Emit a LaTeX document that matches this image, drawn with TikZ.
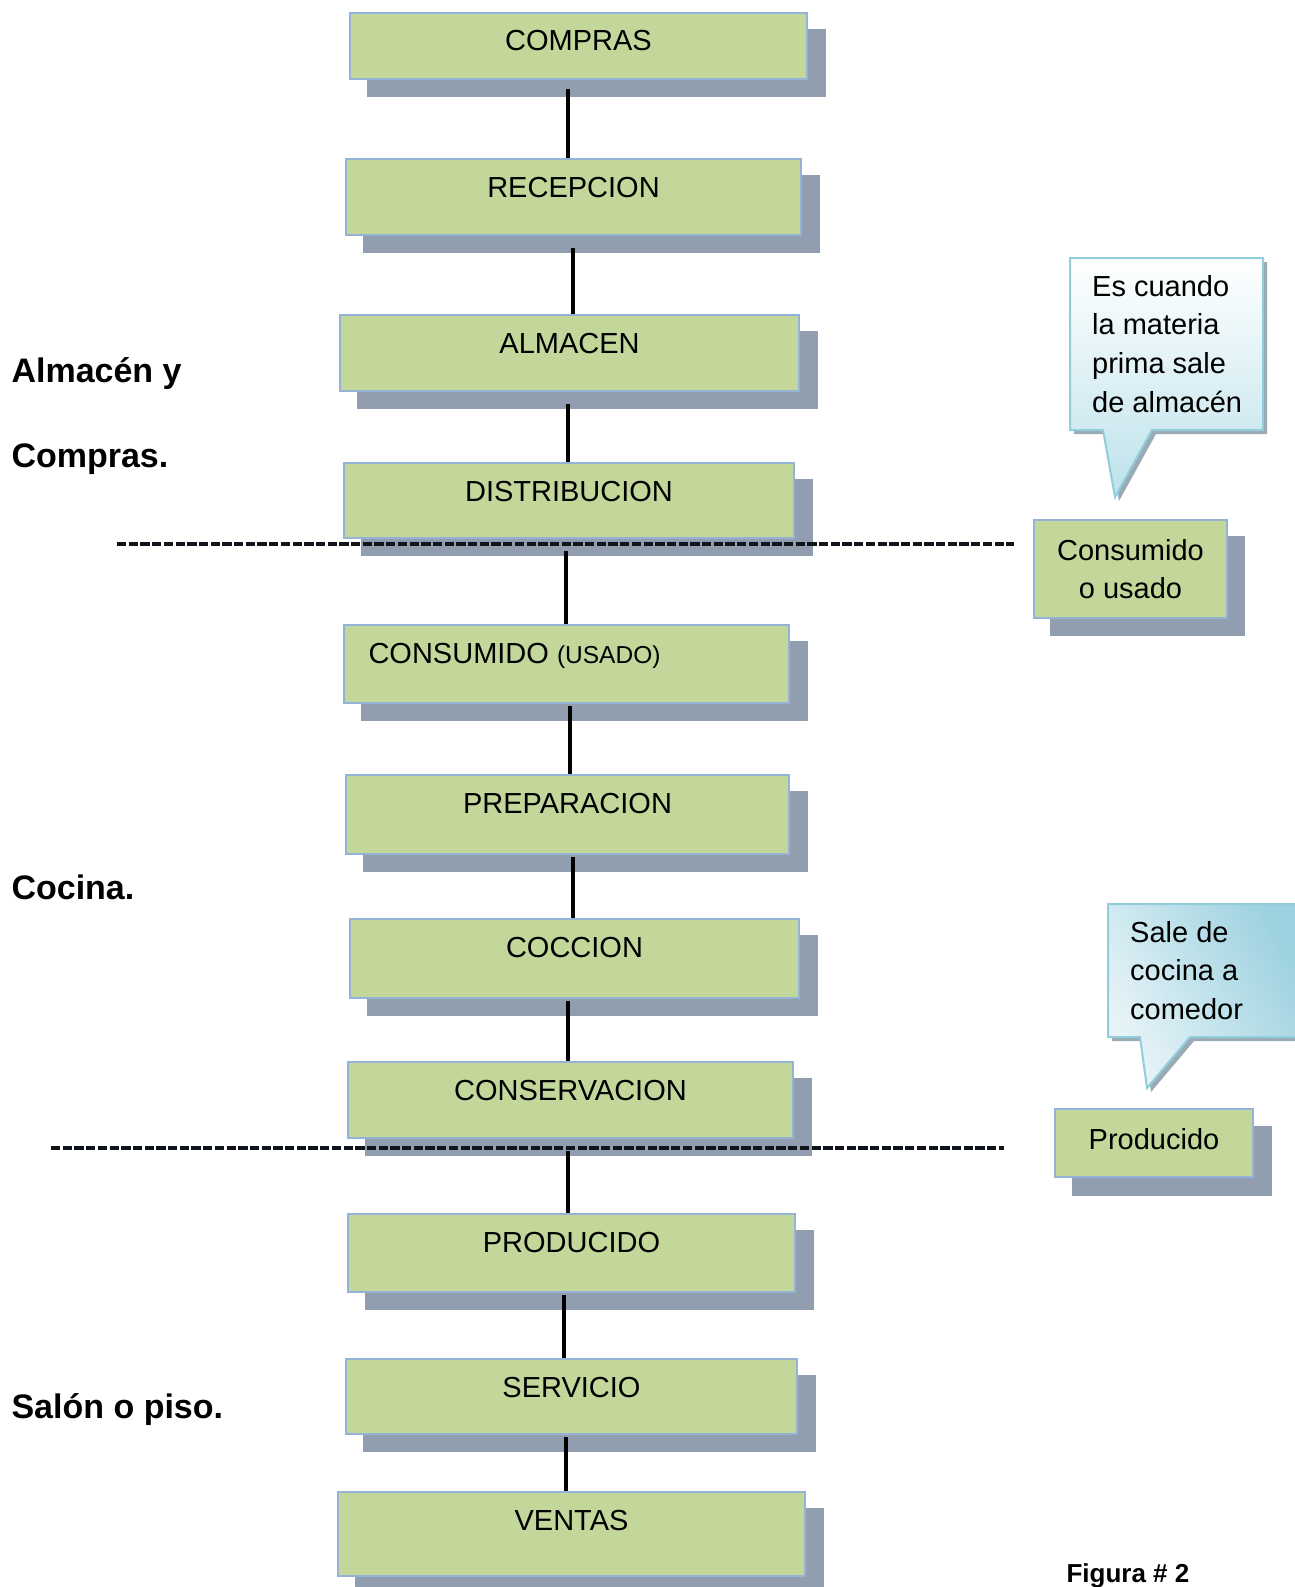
\documentclass[tikz,border=0pt]{standalone}
\usepackage{fontspec}
\setmainfont{Liberation Sans}
\pgfdeclarelayer{shadows}
\pgfdeclarelayer{lines}
\pgfsetlayers{shadows,lines,main}
\definecolor{boxfill}{HTML}{C4D79B}
\definecolor{boxedge}{HTML}{95B3D7}
\definecolor{boxshadow}{HTML}{919EAF}
\definecolor{dashink}{HTML}{10151C}
\definecolor{calloutedge}{HTML}{92CDDC}
\definecolor{calloutlow}{HTML}{BDE2EB}
\definecolor{calloutdark}{HTML}{9CD1DF}
\definecolor{calloutlight}{HTML}{E8F4F8}
\definecolor{calloutshadow}{HTML}{9AABB6}
\tikzset{
  stepbox/.style={draw=boxedge, line width=2pt, fill=boxfill, inner sep=0pt,
    anchor=north west},
  boxtext/.style={font=\fontsize{29}{35}\selectfont},
  link/.style={line width=4pt, black},
  divider/.style={line width=4.5pt, dashink, dash pattern=on 9.3pt off 2.4pt},
  section/.style={font=\fontsize{34}{40}\selectfont\bfseries, anchor=base west},
}
% a process step: name, top-left corner, width, height, label
\newcommand{\stepnode}[6]{%
  \node[stepbox, minimum width=#4pt, minimum height=#5pt] (#1) at (#2,#3) {};
  \node[boxtext, anchor=base] (#1-t) at ([yshift=-39pt]#1.north) {#6};
  \begin{pgfonlayer}{shadows}
    \fill[boxshadow] ([shift={(18,17)}]#1.south west) rectangle ([shift={(18,17)}]#1.north east);
  \end{pgfonlayer}}
\begin{document}
\begin{tikzpicture}[x=1pt, y=-1pt]
\useasboundingbox (0,0) rectangle (1294,1587);

% process chain
\stepnode{compras}{349}{12}{457}{66}{COMPRAS}
\stepnode{recepcion}{345}{158}{455}{76}{RECEPCION}
\stepnode{almacen}{339}{314}{459}{76}{ALMACEN}
\stepnode{distribucion}{343}{462}{450}{75}{DISTRIBUCION}
\stepnode{consumido}{343}{624}{445}{78}{}
\node[boxtext, anchor=base west] (consumido-t) at ([shift={(22pt,-39pt)}]consumido.north west)
  {CONSUMIDO {\fontsize{24.5}{30}\selectfont(USADO)}};
\stepnode{preparacion}{345}{774}{443}{79}{PREPARACION}
\stepnode{coccion}{349}{918}{449}{79}{COCCION}
\stepnode{conservacion}{347}{1061}{445}{76}{CONSERVACION}
\stepnode{producido}{347}{1213}{447}{78}{PRODUCIDO}
\stepnode{servicio}{345}{1358}{451}{75}{SERVICIO}
\stepnode{ventas}{337}{1491}{467}{84}{VENTAS}

% connectors between steps, starting just under each box
\begin{pgfonlayer}{lines}
  \draw[link] ([yshift=-9pt]compras.south -| 568,0) -- (recepcion.north -| 568,0);
  \draw[link] ([yshift=-12pt]recepcion.south -| 573,0) -- (almacen.north -| 573,0);
  \draw[link] ([yshift=-12pt]almacen.south -| 568,0) -- (distribucion.north -| 568,0);
  \draw[link] ([yshift=-12pt]distribucion.south -| 566,0) -- (consumido.north -| 566,0);
  \draw[link] ([yshift=-2pt]consumido.south -| 570,0) -- (preparacion.north -| 570,0);
  \draw[link] ([yshift=-2pt]preparacion.south -| 573,0) -- (coccion.north -| 573,0);
  \draw[link] ([yshift=-2pt]coccion.south -| 568,0) -- (conservacion.north -| 568,0);
  \draw[link] ([yshift=-12pt]conservacion.south -| 568,0) -- (producido.north -| 568,0);
  \draw[link] ([yshift=-2pt]producido.south -| 564,0) -- (servicio.north -| 564,0);
  \draw[link] ([yshift=-2pt]servicio.south -| 566,0) -- (ventas.north -| 566,0);

% area dividers
  \coordinate (divAa) at (117,544);
  \coordinate (divAb) at (1014,544);
  \coordinate (divBa) at (51,1148);
  \coordinate (divBb) at (1004,1148);
  \draw[divider] (divAa) -- (divAb);
  \draw[divider] (divBa) -- (divBb);
\end{pgfonlayer}

% area names
\node[section] (almacenY) at (8,382) {Almacén y};
\node[section] (comprasL) at (8,467) {Compras.};
\node[section] (cocinaL) at (8,899) {Cocina.};
\node[section] (salonL) at (8,1418) {Salón o piso.};
\node[font=\fontsize{26}{30}\selectfont\bfseries, anchor=base west] (figura) at (1063,1582) {Figura \# 2};

% state boxes on the right
\node[stepbox, minimum width=193pt, minimum height=98pt, align=center,
      font=\fontsize{29}{38.7}\selectfont] (usado) at (1033,519) {Consumido\\o usado};
\begin{pgfonlayer}{shadows}
  \fill[boxshadow] ([shift={(17,17)}]usado.south west) rectangle ([shift={(17,17)}]usado.north east);
\end{pgfonlayer}
\node[stepbox, minimum width=198pt, minimum height=68pt,
      font=\fontsize{29}{35}\selectfont] (prod) at (1054,1108) {\raisebox{8pt}{Producido}};
\begin{pgfonlayer}{shadows}
  \fill[boxshadow] ([shift={(18,18)}]prod.south west) rectangle ([shift={(18,18)}]prod.north east);
\end{pgfonlayer}

% callouts
\fill[calloutshadow] (1074,262) -- (1267,262) -- (1267,434) -- (1156,434) -- (1119,501) -- (1107,434) -- (1074,434) -- cycle;
\shade[top color=white, bottom color=calloutlow, draw=calloutedge, line width=2pt]
  (1070,258) -- (1263,258) -- (1263,430) -- (1152,430) -- (1115,497) -- (1103,430) -- (1070,430) -- cycle;
\node[anchor=north west, align=left, inner sep=0pt, font=\fontsize{29}{38.7}\selectfont] (nota1) at (1092,275)
  {Es cuando\\la materia\\prima sale\\de almacén};

\fill[calloutshadow] (1112,908) -- (1310,908) -- (1310,1041) -- (1194,1041) -- (1151,1092) -- (1144,1041) -- (1112,1041) -- cycle;
\shade[shading=axis, left color=calloutlight, right color=calloutdark, shading angle=120,
       draw=calloutedge, line width=2pt]
  (1108,904) -- (1306,904) -- (1306,1037) -- (1190,1037) -- (1147,1088) -- (1140,1037) -- (1108,1037) -- cycle;
\node[anchor=north west, align=left, inner sep=0pt, font=\fontsize{29}{38.7}\selectfont] (nota2) at (1130,921)
  {Sale de\\cocina a\\comedor};
\end{tikzpicture}
\end{document}
